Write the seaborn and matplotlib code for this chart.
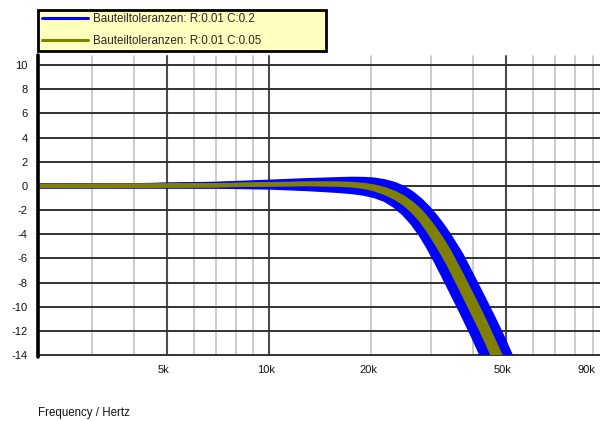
import matplotlib
matplotlib.use("Agg")
import matplotlib.pyplot as plt
import matplotlib.transforms as mtransforms
from matplotlib.lines import Line2D
import pandas as pd
import seaborn as sns

# ---- data -------------------------------------------------------------
freq_khz = [2, 4, 7, 10, 13, 16, 17.5, 19, 20.5, 22, 23.5, 25, 26.5, 28, 29.5,
            31, 32.5, 34, 37, 40, 43, 46, 49, 52, 56]

# Monte-Carlo runs, tolerances R:0.01 C:0.2 (gain in dB)
wide_run_1 = [0.0, 0.03, 0.15, 0.32, 0.45, 0.53, 0.56, 0.55, 0.49, 0.35, 0.13, -0.20, -0.65, -1.20, -1.84, -2.55, -3.30, -4.10, -5.77, -7.61, -9.35, -10.99, -12.62, -14.25, -16.19]
wide_run_2 = [0.0, 0.02, 0.12, 0.26, 0.35, 0.40, 0.41, 0.39, 0.30, 0.14, -0.12, -0.49, -0.98, -1.58, -2.29, -3.06, -3.86, -4.70, -6.43, -8.29, -10.05, -11.71, -13.34, -14.96, -16.89]
wide_run_3 = [0.0, 0.02, 0.09, 0.20, 0.25, 0.27, 0.26, 0.22, 0.12, -0.07, -0.37, -0.79, -1.33, -1.97, -2.73, -3.56, -4.42, -5.30, -7.08, -8.96, -10.76, -12.43, -14.06, -15.67, -17.60]
wide_run_4 = [0.0, 0.01, 0.07, 0.14, 0.16, 0.14, 0.12, 0.06, -0.07, -0.28, -0.62, -1.08, -1.67, -2.37, -3.19, -4.07, -4.98, -5.90, -7.74, -9.63, -11.46, -13.15, -14.78, -16.38, -18.30]
wide_run_5 = [0.0, 0.00, 0.03, 0.07, 0.04, -0.01, -0.05, -0.13, -0.28, -0.52, -0.90, -1.41, -2.05, -2.81, -3.70, -4.65, -5.62, -6.59, -8.48, -10.41, -12.26, -13.98, -15.60, -17.20, -19.11]
wide_run_6 = [0.0, -0.01, 0.01, 0.00, -0.05, -0.14, -0.19, -0.29, -0.46, -0.73, -1.15, -1.70, -2.39, -3.21, -4.15, -5.16, -6.18, -7.19, -9.14, -11.08, -12.96, -14.70, -16.32, -17.91, -19.81]
wide_run_7 = [0.0, -0.01, -0.02, -0.06, -0.15, -0.27, -0.34, -0.46, -0.65, -0.94, -1.40, -2.00, -2.74, -3.60, -4.60, -5.66, -6.73, -7.79, -9.80, -11.76, -13.67, -15.42, -17.04, -18.62, -20.52]
wide_run_8 = [0.0, -0.02, -0.05, -0.12, -0.25, -0.40, -0.49, -0.62, -0.83, -1.15, -1.65, -2.29, -3.08, -4.00, -5.05, -6.17, -7.29, -8.39, -10.45, -12.43, -14.37, -16.14, -17.76, -19.33, -21.22]

# Monte-Carlo runs, tolerances R:0.01 C:0.05 (gain in dB)
narrow_run_1 = [0.0, 0.01, 0.06, 0.14, 0.20, 0.20, 0.16, 0.08, -0.06, -0.28, -0.58, -0.98, -1.49, -2.10, -2.84, -3.65, -4.50, -5.40, -7.35, -9.22, -11.00, -12.78, -14.47, -16.02, -17.94]
narrow_run_2 = [0.0, 0.01, 0.05, 0.12, 0.17, 0.15, 0.10, 0.00, -0.19, -0.45, -0.79, -1.23, -1.78, -2.45, -3.26, -4.15, -5.06, -6.00, -8.00, -9.90, -11.70, -13.50, -15.20, -16.75, -18.65]
narrow_run_3 = [0.0, 0.01, 0.04, 0.10, 0.13, 0.09, 0.03, -0.08, -0.30, -0.60, -0.98, -1.46, -2.08, -2.82, -3.70, -4.65, -5.61, -6.60, -8.65, -10.58, -12.39, -14.22, -15.93, -17.47, -19.36]

series_labels = ["Bauteiltoleranzen: R:0.01 C:0.2", "Bauteiltoleranzen: R:0.01 C:0.05"]
series_colors = ["#0000ff", "#808000"]

x_tick_values = [5000, 10000, 20000, 50000, 90000]
x_tick_labels = ["5k", "10k", "20k", "50k", "90k"]
y_ticks = list(range(-14, 11, 2))
grid_major = [5000, 10000, 50000]
grid_minor = [3000, 4000, 6000, 7000, 8000, 9000, 20000, 30000, 40000,
              60000, 70000, 80000, 90000]


def runs_frame(runs, label):
    rows = []
    for i, run in enumerate(runs):
        assert len(run) == len(freq_khz)
        for f, g in zip(freq_khz, run):
            rows.append({"freq": f * 1000.0, "gain": g, "run": i, "series": label})
    return pd.DataFrame(rows)


df_wide = runs_frame([wide_run_1, wide_run_2, wide_run_3, wide_run_4,
                      wide_run_5, wide_run_6, wide_run_7, wide_run_8], series_labels[0])
df_narrow = runs_frame([narrow_run_1, narrow_run_2, narrow_run_3], series_labels[1])

# ---- style ------------------------------------------------------------
sns.set_style("white")
plt.rcParams["font.family"] = ["Liberation Sans", "DejaVu Sans"]
plt.rcParams["font.size"] = 8
plt.rcParams["axes.unicode_minus"] = False

W, H = 600, 421
fig = plt.figure(figsize=(W / 100, H / 100), dpi=100)
ax_l, ax_r, ax_t, ax_b = 38, 600, 65, 355
ax = fig.add_axes([ax_l / W, 1 - ax_b / H, (ax_r - ax_l) / W, (ax_b - ax_t) / H])

ax.set_xscale("log")
xmin, xmax = 2084, 94700
ax.set_xlim(xmin, xmax)
ax.set_ylim(-14, 10)

for s in ax.spines.values():
    s.set_visible(False)

# grid
plot_h = ax_b - ax_t
top_ext = 1 + 9 / plot_h
for y in y_ticks:
    ax.axhline(y, color="#333333", lw=1.4, zorder=1, clip_on=False)
for f in grid_minor:
    ax.axvline(f, ymin=0, ymax=top_ext, color="#c4c4c4", lw=1.2, zorder=0.8, clip_on=False)
for f in grid_major:
    ax.axvline(f, ymin=0, ymax=top_ext, color="#4a4a4a", lw=1.5, zorder=0.9, clip_on=False)
ax.axvline(xmin, ymin=-0.006, ymax=1 + 10 / plot_h, color="black", lw=2.6, zorder=5, clip_on=False)

# curves
sns.lineplot(data=df_wide, x="freq", y="gain", units="run", estimator=None,
             color=series_colors[0], linewidth=3.4, sort=False, legend=False,
             ax=ax, zorder=3)
sns.lineplot(data=df_narrow, x="freq", y="gain", units="run", estimator=None,
             color=series_colors[1], linewidth=3.0, sort=False, legend=False,
             ax=ax, zorder=4)

ax.set_xlabel("")
ax.set_ylabel("")

# ticks
ax.xaxis.set_minor_locator(matplotlib.ticker.NullLocator())
ax.set_xticks(x_tick_values, labels=x_tick_labels)
ax.tick_params(axis="x", which="both", length=0, pad=7.5, labelsize=8, colors="#111111")
ax.set_yticks(y_ticks)
ax.tick_params(axis="y", length=4, width=1.2, direction="out", color="#333333",
               pad=3.5, labelsize=8, labelcolor="#111111")
xlabels = ax.get_xticklabels()
for i, lbl in enumerate(xlabels):
    dx = -6 if i == len(xlabels) - 1 else -3
    lbl.set_transform(lbl.get_transform() +
                      mtransforms.ScaledTranslation(dx / 100, 0, fig.dpi_scale_trans))

fig.text(ax_l / W, 1 - 413 / H, "Frequency / Hertz", ha="left", va="center",
         fontsize=8.3, color="#111111")

# legend
handles = [Line2D([], [], color=c, lw=2.2) for c in series_colors]
leg = fig.legend(handles, series_labels, loc="upper left",
                 bbox_to_anchor=(ax_l / W, 1 - 52 / H, (326 - ax_l) / W, 42 / H),
                 mode="expand", frameon=True, fancybox=False, facecolor="#ffffc0",
                 edgecolor="black", framealpha=1, fontsize=8.4, handlelength=4.0,
                 handletextpad=0.4, borderpad=0.3, labelspacing=0.85,
                 borderaxespad=0)
leg.get_frame().set_linewidth(2)

fig.savefig("out.png", dpi=100)
